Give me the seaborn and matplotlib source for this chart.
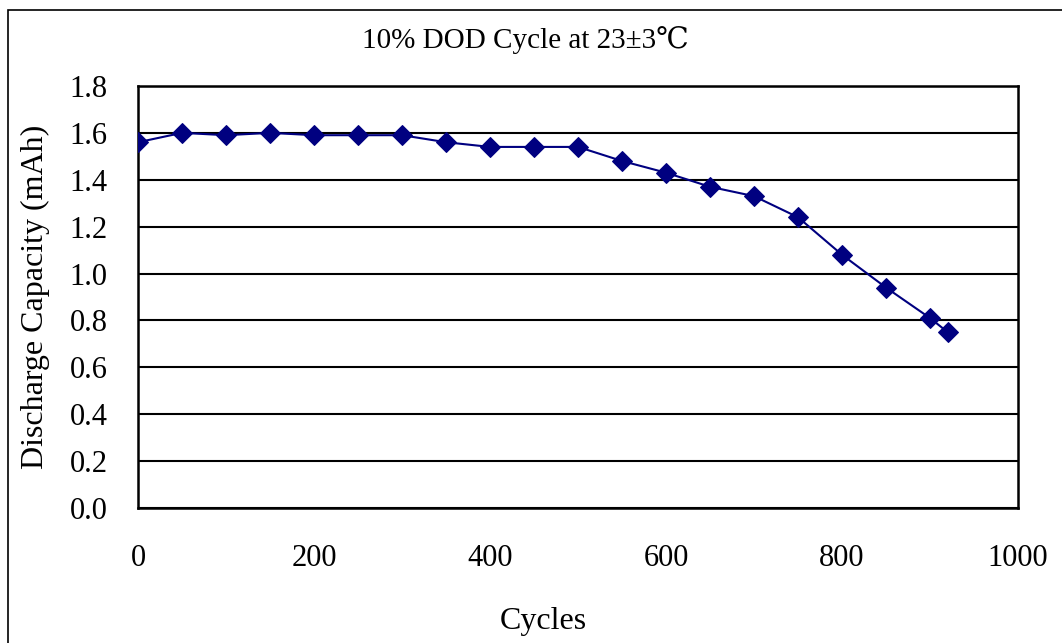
import matplotlib
matplotlib.use("Agg")
import matplotlib.pyplot as plt
import matplotlib.patches as mpatches
import seaborn as sns

cycles = [0, 50, 100, 150, 200, 250, 300, 350, 400, 450,
          500, 550, 600, 650, 700, 750, 800, 850, 900, 920]
capacity = [1.56, 1.60, 1.59, 1.60, 1.59, 1.59, 1.59, 1.56, 1.54, 1.54,
            1.54, 1.48, 1.43, 1.37, 1.33, 1.24, 1.08, 0.94, 0.81, 0.75]
x_ticks = [0, 200, 400, 600, 800, 1000]
y_ticks = [0.0, 0.2, 0.4, 0.6, 0.8, 1.0, 1.2, 1.4, 1.6, 1.8]

sns.set_style("white")
plt.rcParams['font.family'] = ['Liberation Serif', 'DejaVu Serif']
plt.rcParams['text.color'] = 'black'
plt.rcParams['axes.labelcolor'] = 'black'
plt.rcParams['xtick.color'] = 'black'
plt.rcParams['ytick.color'] = 'black'

fig = plt.figure(figsize=(10.62, 6.43), dpi=100)
ax = fig.add_axes([0.130, 0.210, 0.8286, 0.6563])

# outer chart border (runs off the right and bottom edges)
top = 1 - 10 / 643
fig.patches.append(mpatches.Rectangle((8 / 1062, -0.2), 1.2, top + 0.2,
                                      transform=fig.transFigure, fill=False,
                                      edgecolor='black', linewidth=1.2))

sns.lineplot(x=cycles, y=capacity, ax=ax, color='#000080', linewidth=1.5,
             marker='D', markersize=10, markeredgecolor='#000080', zorder=5)

ax.set_xlim(0, 1000)
ax.set_ylim(0, 1.8)
ax.set_xticks(x_ticks)
ax.set_yticks(y_ticks)
ax.set_xticklabels([str(t) for t in x_ticks])
ax.set_yticklabels([f"{t:.1f}" for t in y_ticks])
ax.tick_params(axis='x', direction='in', length=7, width=1, pad=26,
               labelsize=22)
ax.tick_params(axis='y', length=0, pad=22, labelsize=22)
ax.yaxis.grid(True, color='black', linewidth=1.5)
ax.xaxis.grid(False)
for s in ax.spines.values():
    s.set_color('black')
    s.set_linewidth(1.8)

ax.set_xlabel("Cycles", fontsize=23, va='center')
ax.set_ylabel("Discharge Capacity (mAh)", fontsize=23, va='center')
ax.xaxis.set_label_coords(0.460, -0.270)
ax.yaxis.set_label_coords(-0.117, 0.5)
fig.text(525 / 1062, 1 - 40 / 643, "10% DOD Cycle at 23±3℃", ha='center', va='center',
         fontsize=21)

plt.savefig("out.png", dpi=100)
